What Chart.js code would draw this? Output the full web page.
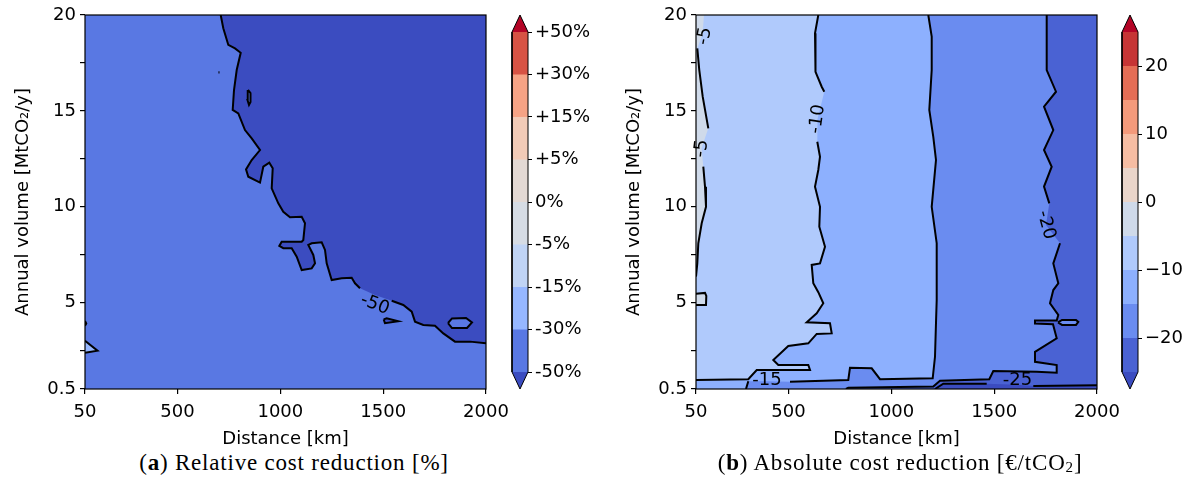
<!DOCTYPE html>
<html>
<head>
<meta charset="utf-8">
<script src="https://cdn.jsdelivr.net/npm/chart.js@4.4.1/dist/chart.umd.min.js"></script>
<style>
  body { margin: 0; background: #fff; }
  #page { position: relative; width: 1199px; height: 491px; overflow: hidden; background: #fff; }
  canvas { position: absolute; top: 0; }
  .cap { position: absolute; top: 450px; width: 420px; text-align: center; font-family: "Liberation Serif", serif; font-size: 23px; letter-spacing: 0.8px; color: #000; }
  .cap sub { font-size: 15px; vertical-align: -2px; }
</style>
</head>
<body>
<div id="page">
  <canvas id="plotA" width="520" height="450" style="left:0"></canvas>
  <canvas id="barA" width="100" height="400" style="left:500px"></canvas>
  <canvas id="plotB" width="520" height="450" style="left:611px"></canvas>
  <canvas id="barB" width="89" height="400" style="left:1110px"></canvas>
  <div class="cap" style="left:84px">(<b>a</b>) Relative cost reduction [%]</div>
  <div class="cap" style="left:690px">(<b>b</b>) Absolute cost reduction [€/tCO<sub>2</sub>]</div>
</div>
<script>
// axes
const distanceTicks = [50, 500, 1000, 1500, 2000];
const volumeTicks = [0.5, 2.5, 5, 7.5, 10, 12.5, 15, 17.5, 20];
const volumeTickLabels = ['0.5', '', '5', '', '10', '', '15', '', '20'];

// (a) relative cost reduction levels
const relLevels = [-50, -30, -15, -5, 0, 5, 15, 30, 50];
const relLevelLabels = ['-50%', '-30%', '-15%', '-5%', '0%', '+5%', '+15%', '+30%', '+50%'];

// (b) absolute cost reduction levels
const absLevels = [-25, -20, -15, -10, -5, 0, 5, 10, 15, 20, 25];
const absTickValues = [-20, -10, 0, 10, 20];
const absTickLabels = ['\u221220', '\u221210', '0', '10', '20'];

// contour paths as [distance km, volume MtCO2/y]; 'gap' marks where the inline label sits
const rel50 = [[709.9,20],[722.5,19.31],[746.9,18.44],[779.4,18.26],[807.2,18.03],[787.7,17.13],[774.6,16.09],
  [768.2,15.05],[795.5,14.87],[828,14.0],[860.6,13.57],[901,12.96],[860.6,12.44],[833,11.95],[844.1,11.57],
  [901,11.26],[917,12.09],[946.2,12.3],[962.8,12.01],[957.9,10.96],[990,10.18],[1014.3,9.74],[1046.9,9.45],
  [1103.8,9.48],[1119.8,9.14],[1111.6,8.27],[1103.8,8.18],[1006.5,8.18],[994.9,7.96],[1014.3,7.84],[1055.2,7.84],
  [1079.5,7.4],[1103.8,6.7],[1152.4,6.79],[1168.5,7.05],[1160.2,7.49],[1135.9,8.01],[1152.4,8.1],[1201,8.15],
  [1217.1,7.75],[1225.3,7.05],[1249.6,6.18],[1298.3,6.27],[1346.9,6.3],[1363,6.01],[1387.3,5.75],[1460,5.4,'gap'],
  [1541.5,5.1],[1597.9,4.88],[1638.8,4.53],[1654.8,4.01],[1695.1,3.84],[1752,3.8],[1792.4,3.4],[1849.3,2.97],
  [1922.2,2.97],[2000,2.88]];
const relHoleA = [[1815.2,3.94],[1834.7,4.18],[1902.8,4.2],[1931.9,3.97],[1907.6,3.68],[1834.7,3.68],[1815.2,3.94]];
const relHoleB = [[842.6,16.09],[854.8,15.93],[854.8,15.46],[847.5,15.31],[840.2,15.57],[840.2,15.93],[842.6,16.09]];
const relIsland = [[1502.5,4.13],[1517,4.19],[1573.5,4.03],[1508.8,3.93],[1502.5,4.13]];
const relDot = [[699,17.07],[704,17.07],[704,16.95],[699,16.95],[699,17.07]];
const relCorner = [[50,3.02],[110.8,2.5],[50,2.39]];
const relEdge = [[50,4.05],[56,3.92],[50,3.8]];

const abs5 = [[88.9,20],[82,19.0,'gap'],[56.3,18.26],[66,17.13],[82.6,15.74],[109.8,14.09],[77,13.05,'gap'],
  [85.5,12.09],[93.8,11.05],[98.6,10.0],[77.7,9.14],[61.2,8.1],[56.3,7.05],[50,6.36]];
const abs5Box = [[50,5.47],[93.8,5.51],[100.1,5.35],[98.6,4.88],[50,4.88]];
const absBlob = [[50,4.15],[54,4.0],[50,3.8]];
const abs10 = [[644.7,20],[628.7,19.05],[633.5,18.17],[628.7,17.04],[661.2,16.26],[673.9,16.0],[641,14.58,'gap'],
  [639.8,13.39],[653,12.61],[644.7,11.92],[628.7,11.05],[653,10.0],[649.6,8.96],[677.3,7.92],[653,7.05],
  [612.6,6.97],[620.4,6.01],[644.7,5.55],[669,4.97],[636.9,4.45],[588.3,3.98],[701.6,3.93],[709.9,3.4],
  [636.9,3.37],[596.1,2.88],[498.8,2.74],[425.9,2.01],[450.2,1.75],[596.1,1.75],[604.4,1.49],[345.2,1.49],
  [304.3,1.01],[50,0.97]];
const abs15 = [[1179.6,20],[1196.2,18.87],[1196.2,17.13],[1184.5,15.05],[1203.9,13.65],[1217,12.44],[1196.2,10.0],
  [1220.5,8.1],[1220.5,5.14],[1217,3.93],[1212.2,2.18],[1201,1.06],[944.8,1.01],[904.4,1.58],[798.9,1.61],
  [790.6,0.97],[507.1,0.88],[395,0.9,'gap'],[304.3,0.9],[293,0.5]];
const abs20 = [[1755.4,20],[1755.4,17.13],[1800.6,16.0],[1742.3,15.22],[1787.5,14.0],[1742.3,12.96],[1779.7,12.09],
  [1742.3,11.05],[1768.1,10.18],[1752,9.05,'gap'],[1820.1,8.1],[1787.5,7.05],[1811.8,6.01],[1787.5,5.66],
  [1771.4,4.97],[1811.8,4.36],[1804,4.07],[1698.5,4.07],[1698.5,3.91],[1786,3.88],[1804,3.14],[1698.5,2.44],
  [1698.5,1.92],[1804,1.75],[1804,1.35],[1706.8,1.4],[1495.7,1.44],[1476.3,1.01],[1236.5,0.93],[1203.9,0.63],
  [790.6,0.56],[779,0.5]];
const abs25 = [[1212.2,0.5],[1252.6,0.78],[1463.6,0.78],[1611,0.72,'gap'],[1690.2,0.66],[2000,0.69]];
const absHole = [[1810.3,3.97],[1829.8,4.1],[1897.9,4.1],[1909.1,4.0],[1897.9,3.84],[1829.8,3.84],[1810.3,3.97]];

// inline contour labels
const relLabels = [{x: 1460, y: 4.9, text: '-50', rot: 21}];
const absLabels = [
  {x: 92, y: 18.9, text: '-5', rot: -79},
  {x: 77, y: 13.04, text: '-5', rot: -83},
  {x: 641, y: 14.58, text: '-10', rot: -82},
  {x: 1752, y: 9.05, text: '-20', rot: 75},
  {x: 395, y: 0.93, text: '-15', rot: 0},
  {x: 1613, y: 0.93, text: '-25', rot: 0}
];

// coolwarm colours for each band (low to high) plus the extensions
const relColors = ['#5978e3', '#96b7ff', '#c0d4f5', '#d6dce4', '#e3d9d4', '#f2cbb7', '#f6a385', '#d75344'];
const absColors = ['#4a62d3', '#6a8cf0', '#8db0fe', '#b0cafc', '#cfdaea', '#e9d5ca', '#f6bda3', '#f49a7b', '#e46d55', '#c63535'];
const underColor = '#3b4cc0';
const overColor = '#b40426';

const font = {family: 'DejaVu Sans', size: 18};

// corners a little outside the plot so filled regions can close off-screen
const X0 = 50, X1 = 2000, Y0 = 0.5, Y1 = 20, M = 40;
const TL = [X0 - M, Y1 + 1], TR = [X1 + M, Y1 + 1], BR = [X1 + M, Y0 - 1], BL = [X0 - M, Y0 - 1];

function toPoints(list, keepGaps) {
  return list.map(p => ({x: p[0], y: (keepGaps && p[2] === 'gap') ? null : p[1]}));
}
function area(list, color) {
  return {data: toPoints(list, false), showLine: true, fill: 'shape', backgroundColor: color,
          borderWidth: 0, pointRadius: 0};
}
function contour(list, width) {
  return {data: toPoints(list, true), showLine: true, fill: false, borderColor: '#000',
          borderWidth: width || 2, pointRadius: 0};
}
// first dataset in the list ends up at the bottom
function stack(list) {
  list.forEach((d, i) => { d.order = list.length - i; });
  return list;
}

function decor(labels) {
  return {
    id: 'decor',
    afterDatasetsDraw(chart) {
      const {ctx, chartArea: a, scales: {x, y}} = chart;
      ctx.save();
      ctx.font = '18px "DejaVu Sans"';
      ctx.fillStyle = '#000';
      ctx.textAlign = 'center';
      ctx.textBaseline = 'middle';
      labels.forEach(l => {
        ctx.save();
        ctx.translate(x.getPixelForValue(l.x), y.getPixelForValue(l.y));
        ctx.rotate(l.rot * Math.PI / 180);
        ctx.fillText(l.text, 0, 0);
        ctx.restore();
      });
      ctx.strokeStyle = '#000';
      ctx.lineWidth = 1.2;
      ctx.strokeRect(a.left, a.top, a.right - a.left, a.bottom - a.top);
      ctx.restore();
    }
  };
}

function plotOptions() {
  return {
    responsive: false,
    animation: false,
    events: [],
    layout: {padding: {left: 0, right: 34, top: 15, bottom: 0}},
    plugins: {legend: {display: false}, tooltip: {enabled: false}},
    scales: {
      x: {
        type: 'linear', min: X0, max: X1,
        afterBuildTicks: s => { s.ticks = distanceTicks.map(v => ({value: v})); },
        afterFit: s => { s.height = 61; s.paddingLeft = 0; s.paddingRight = 0; },
        ticks: {font, color: '#000', padding: 8, maxRotation: 0, autoSkip: false, callback: v => String(v)},
        grid: {drawOnChartArea: false, drawTicks: true, tickLength: 5, color: '#000', lineWidth: 1.2},
        border: {display: false},
        title: {display: true, text: 'Distance [km]', font, color: '#000', padding: {top: 0, bottom: 0}}
      },
      y: {
        type: 'linear', min: Y0, max: Y1,
        afterBuildTicks: s => { s.ticks = volumeTicks.map(v => ({value: v})); },
        afterFit: s => { s.width = 85; s.paddingTop = 0; s.paddingBottom = 0; },
        ticks: {font, color: '#000', padding: 4, autoSkip: false, callback: (v, i) => volumeTickLabels[i]},
        grid: {drawOnChartArea: false, drawTicks: true, tickLength: 5, color: '#000', lineWidth: 1.2},
        border: {display: false},
        title: {display: true, text: 'Annual volume [MtCO\u2082/y]', font, color: '#000', padding: {top: 13, bottom: 0}}
      }
    }
  };
}

// (a) relative cost reduction
new Chart(document.getElementById('plotA'), {
  type: 'scatter',
  data: {datasets: stack([
    area([BL, BR, TR, TL], relColors[0]),
    area([...rel50, TR], underColor),
    area(relCorner, relColors[1]),
    area(relHoleA, relColors[0]),
    area(relHoleB, relColors[0]),
    area(relIsland, underColor),
    area(relDot, '#000'),
    contour(rel50),
    contour(relHoleA),
    contour(relHoleB),
    contour(relIsland),
    contour(relCorner),
    contour(relEdge)
  ])},
  options: plotOptions(),
  plugins: [decor(relLabels)]
});

// (b) absolute cost reduction
new Chart(document.getElementById('plotB'), {
  type: 'scatter',
  data: {datasets: stack([
    area([BL, BR, TR, TL], absColors[4]),
    area([...abs5, BL, BR, TR], absColors[3]),
    area(abs5Box, absColors[4]),
    area(absBlob, '#000'),
    area([...abs10, BL, BR, TR], absColors[2]),
    area([...abs15, BL, BR, TR], absColors[1]),
    area([...abs20, BR, TR], absColors[0]),
    area([...abs25, BR], underColor),
    area(absHole, absColors[1]),
    contour(abs5),
    contour(abs5Box),
    contour(abs10),
    contour(abs15),
    contour(abs20),
    contour(abs25),
    contour(absHole)
  ])},
  options: plotOptions(),
  plugins: [decor(absLabels)]
});

// colour bars: bands laid out evenly by index, with triangular extensions
function colorbar(id, colors, tickIdx, tickText, width) {
  const n = colors.length;
  const t = 0.05 * n;
  const sets = [];
  colors.forEach((c, i) => sets.push(area([[0, i], [1, i], [1, i + 1.02], [0, i + 1.02]], c)));
  sets.push(area([[0, 0], [1, 0], [0.5, -t]], underColor));
  sets.push(area([[0, n], [1, n], [0.5, n + t]], overColor));
  const outline = contour([[0, 0], [0.5, -t], [1, 0], [1, n], [0.5, n + t], [0, n], [0, 0]], 1);
  outline.clip = 4;
  sets.push(outline);
  new Chart(document.getElementById(id), {
    type: 'scatter',
    data: {datasets: stack(sets)},
    options: {
      responsive: false,
      animation: false,
      events: [],
      layout: {padding: {left: 12, right: 0, top: 15, bottom: 11}},
      plugins: {legend: {display: false}, tooltip: {enabled: false}},
      scales: {
        x: {type: 'linear', min: 0, max: 1, display: false},
        y: {
          type: 'linear', position: 'right', min: -t, max: n + t,
          afterBuildTicks: s => { s.ticks = tickIdx.map(v => ({value: v})); },
          afterFit: s => { s.width = width - 28; s.paddingTop = 0; s.paddingBottom = 0; },
          ticks: {font, color: '#000', padding: 3, autoSkip: false, callback: (v, i) => tickText[i]},
          grid: {drawOnChartArea: false, drawTicks: true, tickLength: 4, color: '#000', lineWidth: 1},
          border: {display: false}
        }
      }
    }
  });
}

colorbar('barA', relColors, relLevels.map((v, i) => i), relLevelLabels, 100);
colorbar('barB', absColors, absTickValues.map(v => absLevels.indexOf(v)), absTickLabels, 89);
</script>
</body>
</html>
